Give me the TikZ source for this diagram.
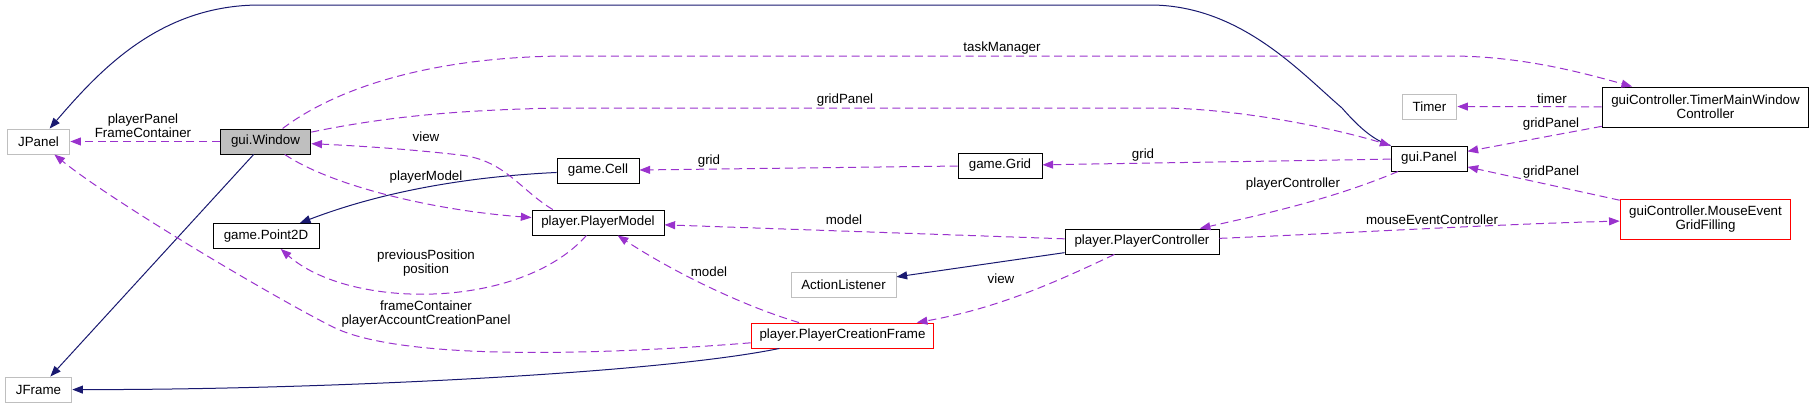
\documentclass[tikz,border=0pt]{standalone}
\usepackage{fontspec}
\setmainfont{Liberation Sans}
\usetikzlibrary{arrows.meta}
\definecolor{edgeblue}{HTML}{191970}
\definecolor{edgepurple}{HTML}{9A32CD}
\definecolor{boxgray}{HTML}{BFBFBF}

\begin{document}
\begin{tikzpicture}[x=0.75pt, y=-0.75pt,
				cls/.style={draw=black, fill=white, line width=0.7pt, minimum height=18.75pt, inner sep=2pt, font=\fontsize{10}{10.5}\selectfont, align=center},
				ext/.style={cls, draw=boxgray},
				bad/.style={cls, draw=red},
				lbl/.style={font=\fontsize{10}{10.5}\selectfont, align=center, inner sep=0pt},
				inh/.style={-{Triangle[length=8pt, width=6pt]}, draw=edgeblue, line width=0.75pt},
				use/.style={-{Triangle[length=8pt, width=6pt]}, draw=edgepurple, line width=0.75pt, dash pattern=on 6pt off 3.5pt}
			]
			\useasboundingbox (0,0) rectangle (1815,408);

			% Classes
			\node[ext, minimum width=47pt] (jpanel) at (38.5,141.5) {JPanel};
			\node[cls, fill=boxgray, minimum width=68pt] (win) at (265.5,141.5) {gui.Window};
			\node[ext, minimum width=50pt] (jframe) at (38.5,389.5) {JFrame};
			\node[cls, minimum width=79.5pt] (point) at (266,236) {game.Point2D};
			\node[cls, minimum width=61.5pt] (cell) at (598,170.5) {game.Cell};
			\node[cls, minimum width=63pt] (grid) at (1000,165.5) {game.Grid};
			\node[cls, minimum width=57pt] (panel) at (1429,158.5) {gui.Panel};
			\node[cls, minimum width=99pt] (pmodel) at (598,222.5) {player.PlayerModel};
			\node[cls, minimum width=115.5pt] (pctrl) at (1142,241.5) {player.PlayerController};
			\node[ext, minimum width=78.75pt] (alist) at (843.5,284.5) {ActionListener};
			\node[bad, minimum width=137pt] (pcframe) at (842.5,335.5) {player.PlayerCreationFrame};
			\node[ext, minimum width=41pt] (timer) at (1429.5,106.5) {Timer};
			\node[cls, minimum width=155pt, minimum height=30pt] (tmwc) at (1705.5,107) {guiController.TimerMainWindow\\Controller};
			\node[bad, minimum width=128pt, minimum height=30pt] (megf) at (1705.5,219) {guiController.MouseEvent\\GridFilling};

			% Inheritance
			\draw[inh] (win) -- (jframe);
			\draw[inh] (panel.north west) .. controls (1372,140) and (1356,124) .. (1342,108)
				.. controls (1300,72) and (1240,5) .. (1150,5) -- (260,5)
				.. controls (160,5) and (100,70) .. (jpanel);
			\draw[inh] (cell) .. controls (440,178) and (360,200) .. (point);
			\draw[inh] (pctrl) -- (alist);
			\draw[inh] (pcframe) .. controls (650,375) and (300,390) .. (jframe);

			% Usage
			\draw[use] (win) -- (jpanel);
			\node[lbl] (lppfc) at (143,126) {playerPanel\\FrameContainer};

			\draw[use] (win) .. controls (340,85) and (440,56) .. (570,56) -- (1450,56)
				.. controls (1520,56) and (1580,72) .. (tmwc);
			\node[lbl] (ltask) at (1002,48) {taskManager};

			\draw[use] (win) .. controls (380,118) and (450,110) .. (560,108) -- (1167,108)
				.. controls (1250,110) and (1340,130) .. (panel.north west);
			\node[lbl] (lgpwin) at (845,100) {gridPanel};

			\draw[use] (pmodel.164) .. controls (520,190) and (505,160) .. (460,155)
				.. controls (400,148) and (340,145) .. (win);
			\node[lbl] (lview) at (426,137) {view};

			\draw[use] (win) .. controls (330,185) and (430,210) .. (pmodel);
			\node[lbl] (lpmodel) at (426,177) {playerModel};

			\draw[use] (grid) -- (cell);
			\node[lbl] (lgridc) at (709,161) {grid};

			\draw[use] (panel) -- (grid);
			\node[lbl] (lgridp) at (1143,155) {grid};

			\draw[use] (pctrl) -- (pmodel);
			\node[lbl] (lmodelc) at (844,220) {model};

			\draw[use] (panel) .. controls (1330,200) and (1260,215) .. (pctrl);
			\node[lbl] (lpctrl) at (1293,184) {playerController};

			\draw[use] (pctrl) .. controls (1350,233) and (1500,224) .. (megf);
			\node[lbl] (lmouse) at (1432,220) {mouseEventController};

			\draw[use] (pctrl) .. controls (1060,280) and (1000,308) .. (pcframe);
			\node[lbl] (lviewc) at (1001,279) {view};

			\draw[use] (pcframe) .. controls (740,305) and (670,270) .. (pmodel);
			\node[lbl] (lmodelf) at (709,272) {model};

			\draw[use] (pmodel) .. controls (520,310) and (350,310) .. (point);
			\node[lbl] (lpos) at (426,263.5) {previousPosition\\position};

			\draw[use] (pcframe) .. controls (560,358) and (393,357) .. (333,327)
				.. controls (273,297) and (110,200) .. (jpanel);
			\node[lbl] (lframe) at (426,314) {frameContainer\\playerAccountCreationPanel};

			\draw[use] (tmwc) -- (timer);
			\node[lbl] (ltimer) at (1552,99) {timer};

			\draw[use] (tmwc) -- (panel);
			\node[lbl] (lgptm) at (1551,124) {gridPanel};

			\draw[use] (megf) -- (panel);
			\node[lbl] (lgpme) at (1551,172) {gridPanel};
		\end{tikzpicture}
\end{document}
